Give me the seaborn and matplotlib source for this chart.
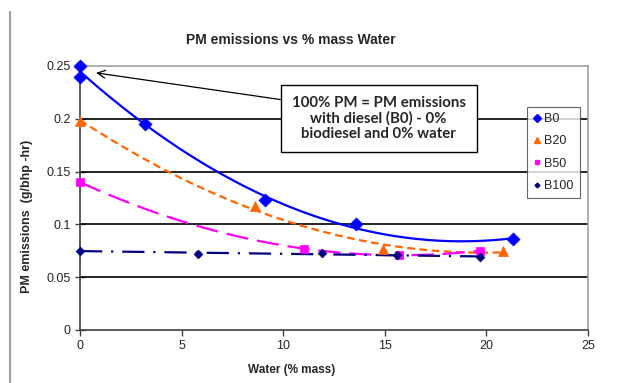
import numpy as np
import pandas as pd
import matplotlib
matplotlib.use("Agg")
import matplotlib.pyplot as plt
import seaborn as sns
from matplotlib.lines import Line2D

# ---- data ----
b0_x = [0, 0, 3.2, 9.1, 13.6, 21.3]
b0_y = [0.25, 0.24, 0.195, 0.123, 0.100, 0.086]
b20_x = [0, 8.6, 14.9, 20.8]
b20_y = [0.198, 0.117, 0.077, 0.075]
b50_x = [0, 11.0, 15.7, 19.7]
b50_y = [0.140, 0.077, 0.071, 0.075]
b100_x = [0, 5.8, 11.9, 15.6, 19.7]
b100_y = [0.075, 0.072, 0.073, 0.071, 0.069]

series_names = ["B0", "B20", "B50", "B100"]
colors = ["#0000FF", "#FF6600", "#FF00FF", "#000080"]
markers = ["D", "^", "s", "D"]
msizes = [44, 52, 30, 20]
fit_orders = [2, 2, 2, 1]
dashes = [(None, None), (3.5, 2), (10, 4), (10, 4, 1, 4)]

x_ticks = [0, 5, 10, 15, 20, 25]
y_ticks = [0, 0.05, 0.1, 0.15, 0.2, 0.25]
y_tick_labels = ["0", "0.05", "0.1", "0.15", "0.2", "0.25"]

title = "PM emissions vs % mass Water"
xlabel = "Water (% mass)"
ylabel = "PM emissions  (g/bhp -hr)"
note = "100% PM = PM emissions\nwith diesel (B0) - 0%\nbiodiesel and 0% water"

sns.set_style("white")
plt.rcParams["font.family"] = ["Liberation Sans", "DejaVu Sans"]

fig = plt.figure(figsize=(6.33, 3.83), dpi=100)
ax = fig.add_axes([80 / 633, 53 / 383, 508 / 633, 264 / 383])

xs_all = [b0_x, b20_x, b50_x, b100_x]
ys_all = [b0_y, b20_y, b50_y, b100_y]

handles = []
for name, xs, ys, c, m, s, order, d in zip(series_names, xs_all, ys_all, colors,
                                           markers, msizes, fit_orders, dashes):
    coef = np.polyfit(xs, ys, order)
    fx = np.linspace(min(xs), max(xs), 200)
    fy = np.polyval(coef, fx)
    sns.lineplot(x=fx, y=fy, ax=ax, color=c, lw=1.6, zorder=3)
    line = ax.lines[-1]
    if d[0] is not None:
        line.set_dashes(d)
    df = pd.DataFrame({"x": xs, "y": ys})
    sns.scatterplot(data=df, x="x", y="y", ax=ax, color=c, marker=m, s=s,
                    edgecolor=c, linewidth=0.5, zorder=4)
    ax.collections[-1].set_clip_on(False)
    handles.append(Line2D([], [], ls="none", marker=m, color=c,
                          markersize=np.sqrt(s) * 0.55, label=name))

ax.set_xlim(0, 25)
ax.set_ylim(0, 0.25)
ax.set_xticks(x_ticks)
ax.set_xticklabels([str(t) for t in x_ticks])
ax.set_yticks(y_ticks)
ax.set_yticklabels(y_tick_labels)
ax.tick_params(axis="x", direction="out", length=4, width=1, color="#404040",
               labelsize=9, pad=3, bottom=True)
ax.tick_params(axis="y", direction="inout", length=7, width=1, color="#404040",
               labelsize=9, pad=3, left=True)

for yv in y_ticks[1:-1]:
    ax.axhline(yv, color="black", lw=1.2, zorder=1)

for side in ["top", "right"]:
    ax.spines[side].set_color("#A0A0A0")
    ax.spines[side].set_linewidth(1.2)
for side in ["left", "bottom"]:
    ax.spines[side].set_color("#404040")
    ax.spines[side].set_linewidth(1.2)

ax.set_xlabel(xlabel, fontsize=8.5, fontweight="bold")
ax.set_ylabel(ylabel, fontsize=9, fontweight="bold")
ax.yaxis.set_label_coords(-0.092, 0.43)
ax.xaxis.set_label_coords(0.416, -0.13)
fig.text(291 / 633, 1 - 40 / 383, title, fontsize=10, fontweight="bold",
         ha="center", va="center")

# annotation box with arrow
ax.annotate(note, xy=(0.79, 0.2435), xytext=(14.7, 0.200),
            ha="center", va="center", fontsize=10.8, fontweight="bold",
            family=["Lato", "DejaVu Sans"], linespacing=1.12,
            bbox=dict(boxstyle="square,pad=0.72", fc="white", ec="black", lw=1),
            arrowprops=dict(arrowstyle="->", color="black", lw=0.9,
                            shrinkA=0, shrinkB=0, relpos=(0, 0.89),
                            mutation_scale=14),
            zorder=6)

leg = ax.legend(handles=handles, loc="upper left", bbox_to_anchor=(0.88, 0.845),
                frameon=True, fancybox=False, fontsize=9, handlelength=0.6,
                handletextpad=0.25, labelspacing=0.82, borderpad=0.5,
                borderaxespad=0)
leg.get_frame().set_edgecolor("#404040")
leg.get_frame().set_linewidth(0.8)
leg.set_zorder(7)

fig.add_artist(Line2D([10 / 633, 10 / 633], [0, 1 - 12 / 383],
                      color="#A0A0A0", lw=1.5, transform=fig.transFigure))

fig.savefig("out.png", dpi=100)
